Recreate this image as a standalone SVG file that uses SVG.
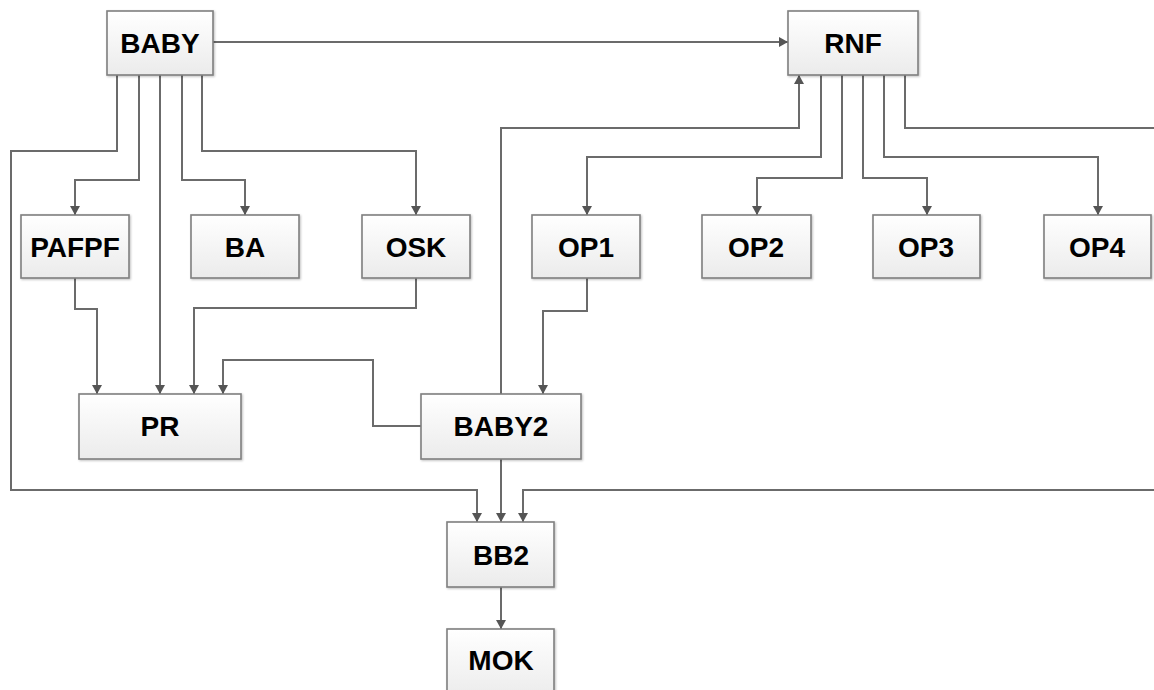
<svg xmlns="http://www.w3.org/2000/svg" width="1154" height="690" viewBox="0 0 1154 690">
<defs>
<linearGradient id="g" x1="0" y1="0" x2="0" y2="1">
<stop offset="0" stop-color="#ffffff"/>
<stop offset="1" stop-color="#ebebeb"/>
</linearGradient>
<marker id="arr" viewBox="0 0 9 10" refX="9" refY="5" markerWidth="9" markerHeight="10" markerUnits="userSpaceOnUse" orient="auto">
<path d="M0,0 L9,5 L0,10 z" fill="#555555"/>
</marker>
<filter id="sh" x="-10%" y="-10%" width="130%" height="130%">
<feDropShadow dx="1" dy="1" stdDeviation="1" flood-color="#000000" flood-opacity="0.25"/>
</filter>
</defs>
<style>
.box{fill:url(#g);stroke:#7f7f7f;stroke-width:1.6;filter:url(#sh)}
.lbl{font-family:"Liberation Sans",Arial,sans-serif;font-weight:bold;font-size:28px;fill:#000;text-anchor:middle}
.c{fill:none;stroke:#6b6b6b;stroke-width:2}
.a{marker-end:url(#arr)}
</style>
<rect width="1154" height="690" fill="#ffffff"/>
<g id="connectors">
<path class="c a" d="M213,42 H788"/>
<path class="c a" d="M117,75 V151 H11 V490 H477 V522"/>
<path class="c a" d="M139,75 V180 H75 V215"/>
<path class="c a" d="M160,75 V394"/>
<path class="c a" d="M182,75 V180 H245 V215"/>
<path class="c a" d="M202,75 V151 H416 V215"/>
<path class="c a" d="M75,278 V309 H97 V394"/>
<path class="c a" d="M416,278 V308 H194 V394"/>
<path class="c a" d="M421,426 H373 V360 H223 V394"/>
<path class="c a" d="M587,278 V311 H543 V394"/>
<path class="c a" d="M501,394 V128 H799 V75"/>
<path class="c a" d="M501,459 V522"/>
<path class="c a" d="M821,75 V157 H587 V215"/>
<path class="c a" d="M842,75 V178 H757 V215"/>
<path class="c a" d="M863,75 V178 H927 V215"/>
<path class="c a" d="M884,75 V157 H1098 V215"/>
<path class="c a" d="M905,75 V128 H1162 V490 H523 V522"/>
<path class="c a" d="M501,587 V629"/>
</g>
<g id="BABY"><rect class="box" x="107" y="11" width="106" height="64"/><text class="lbl" x="160" y="53">BABY</text></g>
<g id="RNF"><rect class="box" x="788" y="11" width="130" height="64"/><text class="lbl" x="853" y="53">RNF</text></g>
<g id="PAFPF"><rect class="box" x="21" y="215" width="108" height="63"/><text class="lbl" x="75" y="257">PAFPF</text></g>
<g id="BA"><rect class="box" x="191" y="215" width="108" height="63"/><text class="lbl" x="245" y="257">BA</text></g>
<g id="OSK"><rect class="box" x="362" y="215" width="108" height="63"/><text class="lbl" x="416" y="257">OSK</text></g>
<g id="OP1"><rect class="box" x="532" y="215" width="108" height="63"/><text class="lbl" x="586" y="257">OP1</text></g>
<g id="OP2"><rect class="box" x="702" y="215" width="109" height="63"/><text class="lbl" x="756" y="257">OP2</text></g>
<g id="OP3"><rect class="box" x="873" y="215" width="107" height="63"/><text class="lbl" x="926" y="257">OP3</text></g>
<g id="OP4"><rect class="box" x="1044" y="215" width="107" height="63"/><text class="lbl" x="1097" y="257">OP4</text></g>
<g id="PR"><rect class="box" x="79" y="394" width="162" height="65"/><text class="lbl" x="160" y="436">PR</text></g>
<g id="BABY2"><rect class="box" x="421" y="394" width="160" height="65"/><text class="lbl" x="501" y="436">BABY2</text></g>
<g id="BB2"><rect class="box" x="447" y="522" width="107" height="65"/><text class="lbl" x="501" y="565">BB2</text></g>
<g id="MOK"><rect class="box" x="447" y="629" width="107" height="70"/><text class="lbl" x="501" y="670">MOK</text></g>
</svg>
